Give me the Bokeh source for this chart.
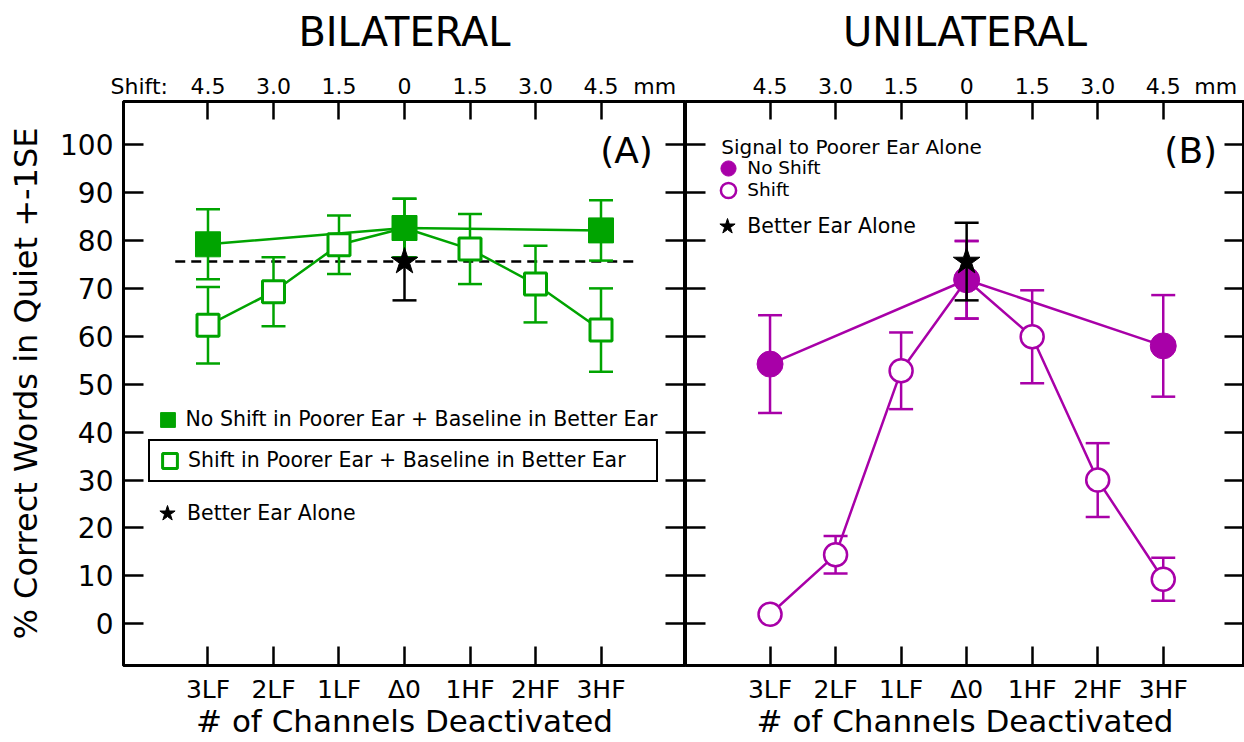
from bokeh.plotting import figure
from bokeh.models import (Range1d, LinearAxis, FixedTicker, Legend, LegendItem, Label)
from bokeh.layouts import row
from bokeh.embed import file_html
from bokeh.resources import INLINE

# ---------------- data ----------------
categories = ["3LF", "2LF", "1LF", "Δ0", "1HF", "2HF", "3HF"]
shift_mm = ["4.5", "3.0", "1.5", "0", "1.5", "3.0", "4.5"]
y_ticks = [0, 10, 20, 30, 40, 50, 60, 70, 80, 90, 100]

# Panel A: bilateral (poorer ear + baseline in better ear)
a_noshift_cats = ["3LF", "Δ0", "3HF"]
a_noshift_mean = [79.2, 82.6, 82.1]
a_noshift_se = [7.3, 6.1, 6.3]
a_shift_mean = [62.3, 69.3, 79.1, 82.6, 78.2, 70.9, 61.3]
a_shift_se = [8.0, 7.2, 6.1, 6.1, 7.3, 8.0, 8.7]

# Panel B: unilateral (signal to poorer ear alone)
b_noshift_cats = ["3LF", "Δ0", "3HF"]
b_noshift_mean = [54.2, 71.8, 58.0]
b_noshift_se = [10.2, 8.1, 10.6]
b_shift_mean = [2.0, 14.4, 52.8, 71.8, 59.9, 30.0, 9.3]
b_shift_se = [0.0, 3.9, 8.0, 8.1, 9.7, 7.7, 4.5]

# Better ear alone
better_ear_cat = "Δ0"
better_ear_mean = 75.6
better_ear_se = 8.1

# ---------------- style ----------------
FONT = "DejaVu Sans"
GREEN = "#00A400"
PURPLE = "#A800A8"
H = 742
Y0, Y1 = -8.7, 109.0
half = (len(categories) - 1) // 2
xpos = [i - half for i in range(len(categories))]
pos = dict(zip(categories, xpos))


def style_axis(ax, tick_in, font_px, standoff):
    ax.axis_line_color = "black"
    ax.axis_line_width = 3
    ax.major_tick_in = tick_in
    ax.major_tick_out = 0
    ax.major_tick_line_width = 2.5
    ax.major_tick_line_color = "black"
    ax.minor_tick_line_color = None
    ax.major_label_text_font = FONT
    ax.major_label_text_font_size = f"{font_px}px"
    ax.major_label_text_color = "black"
    ax.major_label_standoff = standoff
    ax.axis_label_text_font = FONT
    ax.axis_label_text_font_style = "normal"
    ax.axis_label_text_color = "black"


def make_fig(heading, width, bl, br, xr, unit_ticks, unit_labels):
    p = figure(width=width, height=H, x_range=xr, y_range=Range1d(Y0, Y1),
               output_backend="svg", toolbar_location=None,
               x_axis_location=None, y_axis_location=None,
               min_border_left=bl, min_border_right=br,
               min_border_top=101, min_border_bottom=77)
    p.grid.visible = False
    p.outline_line_color = "black"
    p.outline_line_width = 3
    p.background_fill_color = "white"
    p.border_fill_color = "white"

    # top scale labels (shift in mm, plus "Shift:" / "mm") and the panel heading
    top_ticks = list(xpos) + list(unit_ticks)
    top_labels = list(shift_mm) + list(unit_labels)
    top = LinearAxis(ticker=FixedTicker(ticks=top_ticks),
                     major_label_overrides=dict(zip(top_ticks, top_labels)),
                     axis_label=heading)
    style_axis(top, 0, 22, 3)
    top.major_tick_line_color = None
    top.axis_label_text_font_size = "40px"
    top.axis_label_standoff = 16
    p.add_layout(top, "above")
    # inward tick marks of the top scale
    top_marks = LinearAxis(ticker=FixedTicker(ticks=xpos), fixed_location=Y1)
    style_axis(top_marks, 18, 1, 0)
    top_marks.major_label_text_color = None
    p.add_layout(top_marks, "above")
    # bottom axis (channels deactivated)
    bot = LinearAxis(ticker=FixedTicker(ticks=xpos),
                     major_label_overrides={x: s for x, s in zip(xpos, categories)},
                     axis_label="# of Channels Deactivated")
    style_axis(bot, 19, 25, 9)
    bot.axis_label_text_font_size = "31px"
    bot.axis_label_standoff = -4
    p.add_layout(bot, "below")
    # right axis ticks only
    rax = LinearAxis(ticker=FixedTicker(ticks=y_ticks), fixed_location=xr.end)
    style_axis(rax, 20, 1, 0)
    rax.major_label_text_color = None
    p.add_layout(rax, "right")
    return p


def errbars(p, xs, means, ses, color, width=2.5, cap=24):
    lo = [m - s for m, s in zip(means, ses)]
    hi = [m + s for m, s in zip(means, ses)]
    p.segment(x0=xs, y0=lo, x1=xs, y1=hi, line_color=color, line_width=width)
    p.scatter(xs, lo, marker="dash", size=cap, line_color=color, line_width=width)
    p.scatter(xs, hi, marker="dash", size=cap, line_color=color, line_width=width)


def label(p, x, y, text, size, align="center", baseline="middle"):
    p.add_layout(Label(x=x, y=y, text=text, text_font=FONT, text_font_size=f"{size}px",
                       text_align=align, text_baseline=baseline, text_color="black"))


def legend(p, r, text, loc, glyph, padding=0, border=False, min_w=None, font=20.5):
    lg = Legend(items=[LegendItem(label=text, renderers=[r])], location=loc,
                glyph_width=glyph, glyph_height=glyph,
                label_standoff=0, padding=padding, margin=0, spacing=0,
                label_text_font=FONT, label_text_font_size=f"{font}px", label_text_color="black",
                border_line_color="black" if border else None, border_line_width=2.5,
                border_line_alpha=1.0,
                background_fill_color="white", background_fill_alpha=1.0 if border else 0.0)
    if min_w is not None:
        lg.label_width = min_w
    p.add_layout(lg)


# ================= Panel A =================
pA = make_fig("BILATERAL", 685, 123, 0, Range1d(-4.29, 4.29), [-4.05, 3.82], ["Shift:", "mm"])
left = LinearAxis(ticker=FixedTicker(ticks=y_ticks), axis_label="% Correct Words in Quiet +-1SE")
style_axis(left, 20, 28, 10)
left.axis_label_text_font_size = "32px"
left.axis_label_standoff = 12
pA.add_layout(left, "left")

bx = pos[better_ear_cat]
pA.line([xpos[0] - 0.5, xpos[-1] + 0.5], [better_ear_mean, better_ear_mean],
        line_color="black", line_width=2.5, line_dash="10 6")
errbars(pA, [bx], [better_ear_mean], [better_ear_se], "black")
ax_ns = [pos[c] for c in a_noshift_cats]
pA.line(xpos, a_shift_mean, line_color=GREEN, line_width=2.5)
pA.line(ax_ns, a_noshift_mean, line_color=GREEN, line_width=2.5)
errbars(pA, xpos, a_shift_mean, a_shift_se, GREEN)
errbars(pA, ax_ns, a_noshift_mean, a_noshift_se, GREEN)
rA_open = pA.scatter(xpos, a_shift_mean, marker="square", size=22, fill_color="white",
                     line_color=GREEN, line_width=3)
rA_fill = pA.scatter(ax_ns, a_noshift_mean, marker="square", size=25, fill_color=GREEN,
                     line_color=GREEN, line_width=1)
rA_star = pA.scatter([bx], [better_ear_mean], marker="star", size=28, fill_color="black",
                     line_color="black", line_width=1)

legend(pA, rA_fill, "No Shift in Poorer Ear + Baseline in Better Ear", (25.5, 227.5), 37)
legend(pA, rA_open, "Shift in Poorer Ear + Baseline in Better Ear", (25, 183.5), 37,
       padding=1, border=True, min_w=467)
legend(pA, rA_star, "Better Ear Alone", (24, 132), 40)
label(pA, 3.39, 98.8, "(A)", 36)

# ================= Panel B =================
pB = make_fig("UNILATERAL", 559, 0, 0, Range1d(-4.29, 4.24), [3.80], ["mm"])
lB = LinearAxis(ticker=FixedTicker(ticks=y_ticks), fixed_location=-4.29)
style_axis(lB, 20, 1, 0)
lB.major_label_text_color = None
pB.add_layout(lB, "left")

bx_ns = [pos[c] for c in b_noshift_cats]
pB.line(xpos, b_shift_mean, line_color=PURPLE, line_width=2.5)
pB.line(bx_ns, b_noshift_mean, line_color=PURPLE, line_width=2.5)
errbars(pB, xpos, b_shift_mean, b_shift_se, PURPLE)
errbars(pB, bx_ns, b_noshift_mean, b_noshift_se, PURPLE)
rB_open = pB.scatter(xpos, b_shift_mean, marker="circle", size=23, fill_color="white",
                     line_color=PURPLE, line_width=2.5)
rB_fill = pB.scatter(bx_ns, b_noshift_mean, marker="circle", size=26, fill_color=PURPLE,
                     line_color=PURPLE, line_width=1)
errbars(pB, [bx], [better_ear_mean], [better_ear_se], "black")
rB_star = pB.scatter([bx], [better_ear_mean], marker="star", size=28, fill_color="black",
                     line_color="black", line_width=1)

label(pB, -3.745, 99.5, "Signal to Poorer Ear Alone", 20, align="left")
legend(pB, rB_fill, "No Shift", (24.3, 478.2), 38, font=18.5)
legend(pB, rB_open, "Shift", (24.3, 456.2), 38, font=18.5)
legend(pB, rB_star, "Better Ear Alone", (22.3, 419.3), 40)
label(pB, 3.42, 98.8, "(B)", 36)

layout = row(pA, pB, spacing=0)
open("out.html", "w").write(file_html(layout, INLINE))
